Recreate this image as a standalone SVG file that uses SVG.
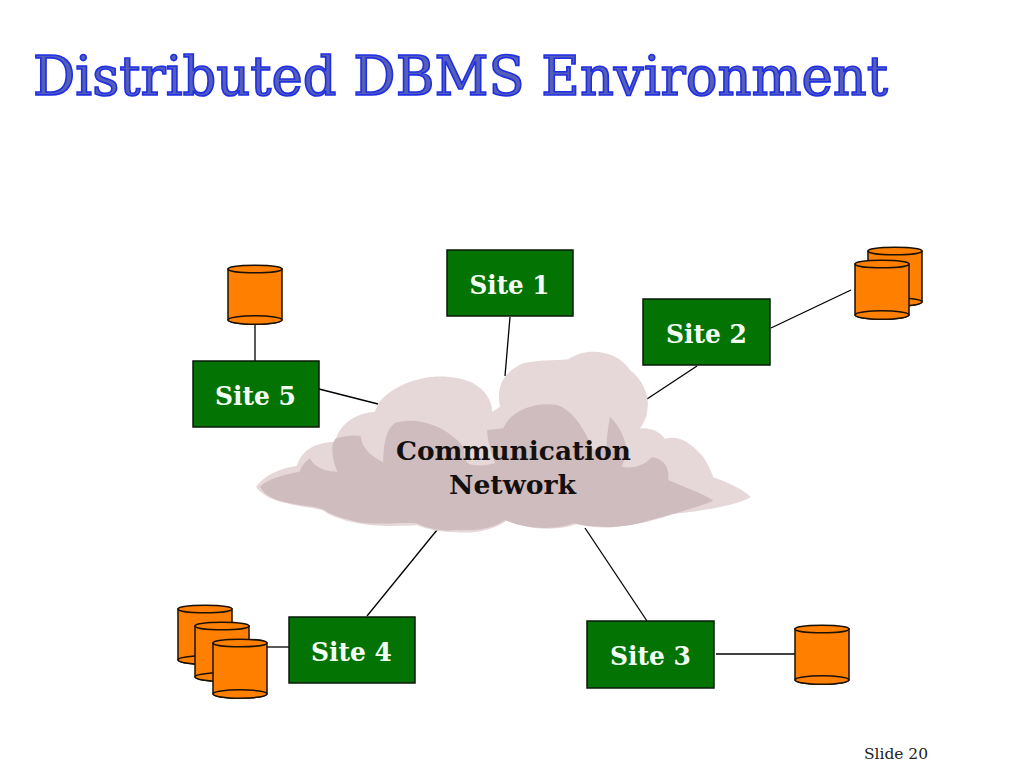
<svg xmlns="http://www.w3.org/2000/svg" width="1024" height="768" viewBox="0 0 1024 768">
<style>
.t{font-family:"DejaVu Serif","Liberation Serif",serif;font-weight:bold}
.title{font-family:"DejaVu Serif","Liberation Serif",serif;font-size:55px;fill:#565fb8;stroke:#1f2fe6;stroke-width:1.700px}
.site{font-size:26px;fill:#f4fff4;text-anchor:middle}
.cloudt{font-size:26.500px;fill:#151010;text-anchor:middle}
.box{fill:#037303;stroke:#0a1a0a;stroke-width:1.500}
.c{fill:#ff8000;stroke:#1a1005;stroke-width:1.500}
#connectors line{stroke:#000;stroke-width:1.300}
</style>
<defs>
<g id="cyl">
<path class="c" d="M0 4V55A27 4.200 0 0 0 54 55V4Z"/>
<path class="c" d="M0 55A27 4.200 0 0 0 54 55A27 4.200 0 0 0 0 55Z"/>
<ellipse class="c" cx="27" cy="4" rx="27" ry="3.800"/>
</g>
</defs>
<rect width="1024" height="768" fill="#fff"/>
<text class="title" x="33" y="95" textLength="855" lengthAdjust="spacingAndGlyphs">Distributed DBMS Environment</text>
<g id="connectors">
<line x1="510" y1="317" x2="505" y2="376"/>
<line x1="697" y1="366" x2="647" y2="399"/>
<line x1="771" y1="328" x2="851" y2="290"/>
<line x1="255" y1="324" x2="255" y2="361"/>
<line x1="319" y1="389" x2="378" y2="404"/>
<line x1="367" y1="616" x2="437" y2="530"/>
<line x1="267" y1="647" x2="289" y2="647"/>
<line x1="647" y1="621" x2="585" y2="528"/>
<line x1="716" y1="654" x2="795" y2="654"/>
</g>
<g id="cloud">
<g transform="translate(240 340) scale(.3333)">
<path fill="#e6d8d9" d="M48 440C75 405 120 385 170 378C185 335 215 308 285 305C300 250 345 220 405 215L415 190C470 120 600 85 700 130C735 150 755 180 757 215L780 200C770 150 780 100 850 70C890 60 940 62 985 58C1040 20 1130 30 1170 90C1210 120 1230 170 1222 210C1220 235 1210 250 1200 265C1240 262 1265 280 1275 297C1310 285 1345 300 1390 350C1405 375 1415 395 1420 412C1470 430 1510 450 1532 470C1510 490 1400 512 1300 522C1250 540 1200 552 1150 557C1100 567 1050 562 1010 552C960 572 870 572 800 542C770 562 720 582 650 577C600 577 560 567 530 556C480 558 400 562 340 547C300 537 270 527 250 512C210 497 85 497 48 440Z"/>
<path fill="#cfbcbe" d="M60 440C85 415 130 405 178 395C185 380 195 365 210 355C225 385 260 395 292 395C270 345 275 300 290 295C320 285 345 285 362 288C365 325 395 350 430 367C430 310 440 260 470 247C540 230 620 260 670 320C675 350 670 370 700 375C725 378 745 375 765 370C755 340 740 300 742 270L790 265C810 215 880 185 950 195C1000 210 1035 270 1060 330L1100 318C1100 290 1105 260 1110 230C1140 260 1160 300 1160 340C1155 355 1150 370 1145 380C1180 388 1215 375 1235 352C1265 355 1290 375 1285 420C1330 440 1400 465 1420 482C1380 500 1290 525 1215 545C1150 565 1060 565 1000 550C950 570 860 570 795 540C770 560 720 575 650 570C600 575 560 565 530 550C480 545 390 560 330 540C290 530 265 520 250 508C210 490 90 500 60 440Z"/>
</g>
<text class="t cloudt" x="513.500" y="460" textLength="235" lengthAdjust="spacingAndGlyphs">Communication</text>
<text class="t cloudt" x="512.500" y="494" textLength="127" lengthAdjust="spacingAndGlyphs">Network</text>
</g>
<g id="site1"><rect class="box" x="447" y="250" width="126" height="66"/><text class="t site" x="509.500" y="294" textLength="80" lengthAdjust="spacingAndGlyphs">Site 1</text></g>
<g id="site2"><rect class="box" x="643" y="299" width="127" height="66"/><text class="t site" x="706.500" y="343" textLength="81" lengthAdjust="spacingAndGlyphs">Site 2</text></g>
<g id="site3"><rect class="box" x="587" y="621" width="127" height="67"/><text class="t site" x="650.500" y="665" textLength="81" lengthAdjust="spacingAndGlyphs">Site 3</text></g>
<g id="site4"><rect class="box" x="289" y="617" width="126" height="66"/><text class="t site" x="351.500" y="661" textLength="81" lengthAdjust="spacingAndGlyphs">Site 4</text></g>
<g id="site5"><rect class="box" x="193" y="361" width="126" height="66"/><text class="t site" x="255.500" y="405" textLength="81" lengthAdjust="spacingAndGlyphs">Site 5</text></g>
<g id="db5"><use href="#cyl" x="228" y="265"/></g>
<g id="db2"><use href="#cyl" x="868" y="247"/><use href="#cyl" x="855" y="260"/></g>
<g id="db4"><use href="#cyl" x="178" y="605"/><use href="#cyl" x="195" y="622"/><use href="#cyl" x="213" y="639"/></g>
<g id="db3"><use href="#cyl" x="795" y="625"/></g>
<text x="864" y="759" font-family="'DejaVu Serif',serif" font-size="14" fill="#222" textLength="64" lengthAdjust="spacingAndGlyphs">Slide 20</text>
</svg>
